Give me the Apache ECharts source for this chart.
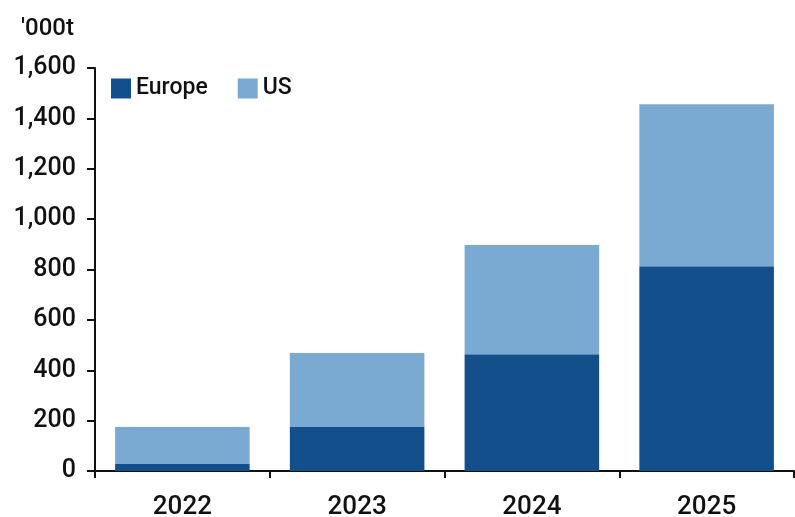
<!DOCTYPE html>
<html><head><meta charset="utf-8">
<script src="https://cdn.jsdelivr.net/npm/echarts@6/dist/echarts.min.js"></script>
<style>html,body{margin:0;padding:0;background:#fff}#c{width:795px;height:517px}</style>
</head><body><div id="c"></div>
<script>
const categories = ['2022', '2023', '2024', '2025'];
const europe = [28, 175, 464, 813];
const us = [147, 293, 433, 643];
const unitLabel = "'000t";

const chart = echarts.init(document.getElementById('c'));
const font = 'Roboto';
chart.setOption({
  animation: false,
  textStyle: { fontFamily: font },
  grid: { left: 95, right: 1, top: 68, bottom: 46, containLabel: false, outerBoundsMode: 'none' },
  title: { text: unitLabel, left: 16, top: 12, textStyle: { fontFamily: font, fontSize: 24, fontWeight: 500, color: '#111' } },
  legend: {
    left: 106, top: 72, itemWidth: 20, itemHeight: 20, itemGap: 30, icon: 'rect',
    textStyle: { fontFamily: font, fontSize: 23, fontWeight: 500, color: '#111' },
    data: ['Europe', 'US']
  },
  xAxis: {
    type: 'category', data: categories,
    axisLine: { lineStyle: { color: '#111', width: 2 } },
    axisTick: { show: true, length: 7, lineStyle: { color: '#111', width: 2 } },
    axisLabel: { fontFamily: font, fontSize: 26, fontWeight: 500, color: '#111', margin: 23 }
  },
  yAxis: {
    type: 'value', min: 0, max: 1600, interval: 200,
    splitLine: { show: false },
    axisLine: { show: true, lineStyle: { color: '#111', width: 2 } },
    axisTick: { show: true, length: 8, lineStyle: { color: '#111', width: 2 } },
    axisLabel: { fontFamily: font, fontSize: 25, fontWeight: 500, color: '#111', margin: 19,
      formatter: v => v.toLocaleString('en-US') }
  },
  series: [
    { name: 'Europe', type: 'bar', stack: 't', data: europe, barCategoryGap: '23%', itemStyle: { color: '#134F8A' } },
    { name: 'US', type: 'bar', stack: 't', data: us, barCategoryGap: '23%', itemStyle: { color: '#7AAAD2' } }
  ]
});
</script></body></html>
